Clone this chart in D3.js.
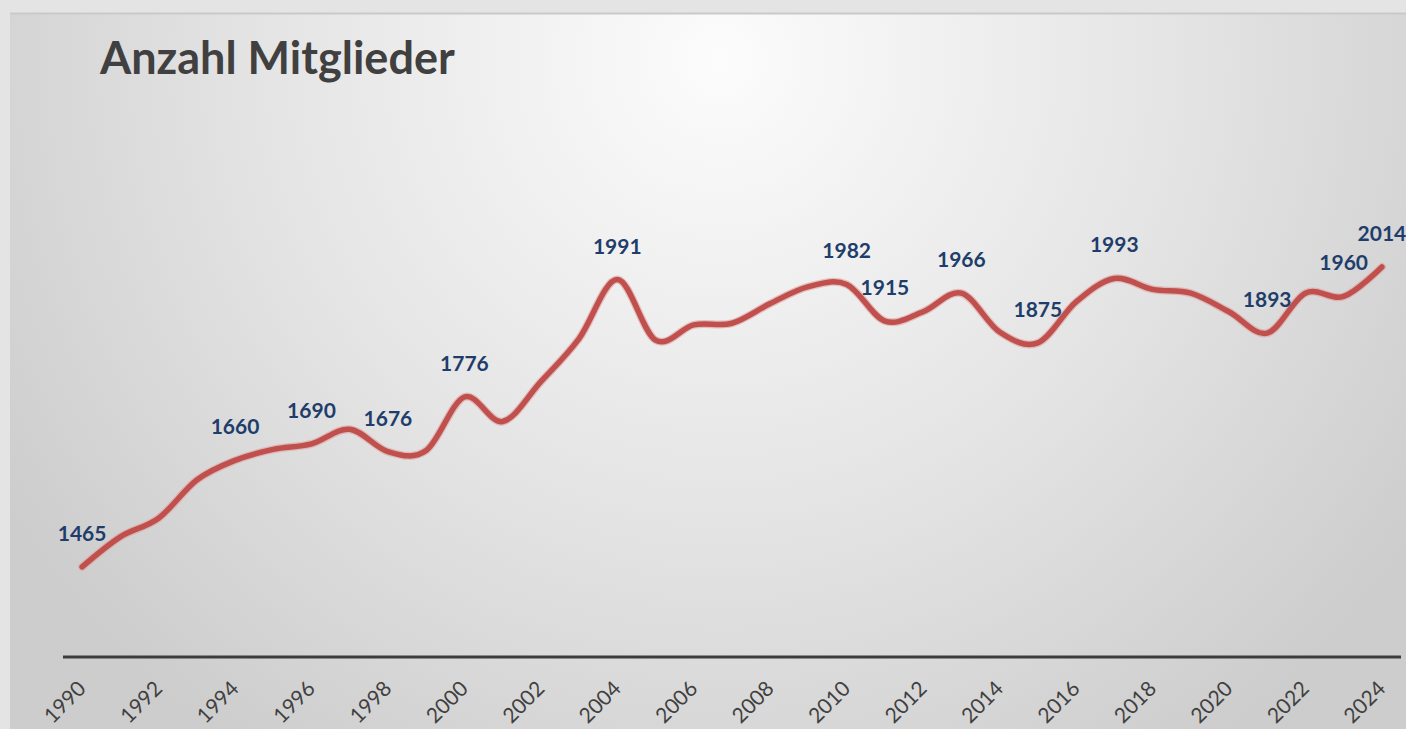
<!DOCTYPE html>
<html>
<head>
<meta charset="utf-8">
<script src="https://cdn.jsdelivr.net/npm/d3@7"></script>
<style>
  body { margin: 0; background: #e4e4e4; }
  svg { display: block; }
</style>
</head>
<body>
<div id="chart"></div>
<script>
// Mitglieder pro Jahr
const years = d3.range(1990, 2025);
const members = [
  1465, 1520, 1554, 1624, 1660, 1680, 1690, 1717, 1676, 1678,
  1776, 1731, 1804, 1883, 1991, 1880, 1908, 1911, 1947, 1978,
  1982, 1915, 1932, 1966, 1895, 1875, 1950, 1993, 1973, 1966,
  1932, 1893, 1966, 1960, 2014
];
// Jahre mit Datenbeschriftung
const labeledYears = [1990, 1994, 1996, 1998, 2000, 2004, 2010, 2011, 2013, 2015, 2017, 2021, 2023, 2024];
const tickYears = d3.range(1990, 2025, 2);

const data = years.map((y, i) => ({ year: y, value: members[i] }));

const W = 1406, H = 729;

const svg = d3.select("#chart")
    .append("svg")
    .attr("width", W)
    .attr("height", H);

// background: outer frame + radial gradient panel
const defs = svg.append("defs");
const grad = defs.append("radialGradient")
    .attr("id", "bg")
    .attr("gradientUnits", "userSpaceOnUse")
    .attr("cx", 720).attr("cy", 60)
    .attr("r", 840);
grad.append("stop").attr("offset", 0).attr("stop-color", "#fcfcfc");
grad.append("stop").attr("offset", 0.55).attr("stop-color", "#e4e4e4");
grad.append("stop").attr("offset", 1).attr("stop-color", "#cdcdcd");

svg.append("rect")
    .attr("width", W).attr("height", H)
    .attr("fill", "#e4e4e4");

svg.append("rect")
    .attr("x", 10).attr("y", 13)
    .attr("width", W - 10).attr("height", H - 13)
    .attr("fill", "url(#bg)");

svg.append("line")
    .attr("x1", 10).attr("x2", W)
    .attr("y1", 13.5).attr("y2", 13.5)
    .attr("stroke", "#c9c9c9")
    .attr("stroke-width", 2);

// scales
const x = d3.scalePoint()
    .domain(years)
    .range([63, 1401])
    .padding(0.5);

const y = d3.scaleLinear()
    .domain([1300, 2100])
    .range([657, 220]);

// title
svg.append("text")
    .attr("x", 100)
    .attr("y", 74)
    .style("font-family", "Lato, 'Open Sans', sans-serif")
    .style("font-weight", "bold")
    .style("font-size", "45px")
    .attr("fill", "#404040")
    .text("Anzahl Mitglieder");

// x axis line
svg.append("line")
    .attr("x1", x.range()[0])
    .attr("x2", x.range()[1])
    .attr("y1", y(1300))
    .attr("y2", y(1300))
    .attr("stroke", "#3c3c3c")
    .attr("stroke-width", 3);

// tick labels (rotated)
svg.selectAll(".tick-label")
    .data(tickYears)
    .enter().append("text")
    .attr("class", "tick-label")
    .attr("transform", d => `translate(${x(d) + 5},${y(1300) + 33}) rotate(-45)`)
    .style("text-anchor", "end")
    .style("font-family", "Lato, 'Open Sans', sans-serif")
    .style("font-size", "21px")
    .attr("fill", "#404040")
    .text(d => d);

// line
const line = d3.line()
    .x(d => x(d.year))
    .y(d => y(d.value))
    .curve(d3.curveCatmullRom.alpha(0));

svg.append("path")
    .datum(data)
    .attr("fill", "none")
    .attr("stroke", "#e0a09e")
    .attr("stroke-opacity", 0.6)
    .attr("stroke-width", 8)
    .attr("stroke-linecap", "round")
    .attr("stroke-linejoin", "round")
    .attr("d", line);

svg.append("path")
    .datum(data)
    .attr("fill", "none")
    .attr("stroke", "#c0504d")
    .attr("stroke-width", 5.5)
    .attr("stroke-linecap", "round")
    .attr("stroke-linejoin", "round")
    .attr("d", line);

// data labels
svg.selectAll(".value-label")
    .data(data.filter(d => labeledYears.includes(d.year)))
    .enter().append("text")
    .attr("class", "value-label")
    .attr("x", d => x(d.year))
    .attr("y", d => y(d.value) - 26)
    .style("text-anchor", "middle")
    .style("font-family", "Lato, 'Open Sans', sans-serif")
    .style("font-weight", "bold")
    .style("font-size", "21px")
    .attr("fill", "#1f3d6b")
    .text(d => d.value);
</script>
</body>
</html>
